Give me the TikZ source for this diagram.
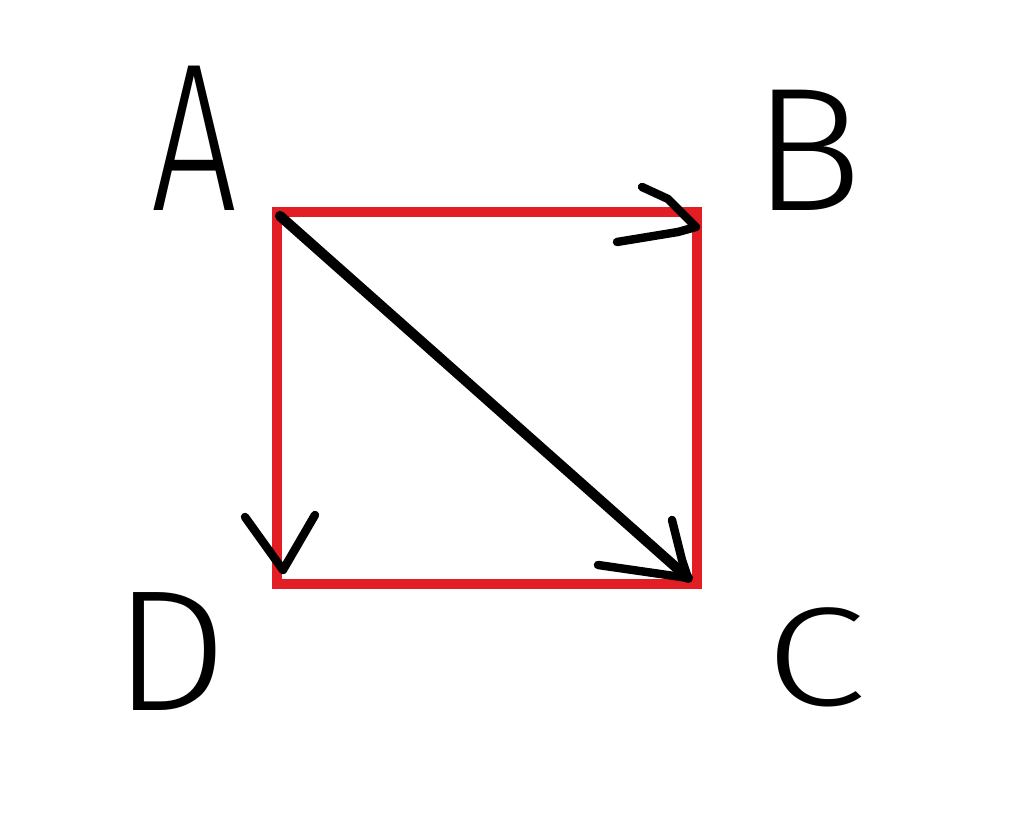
\documentclass[tikz,border=0pt]{standalone}
\usepackage{fontspec}
\newfontfamily\handfont{Fira Sans Light}
\begin{document}
\begin{tikzpicture}[x=1cm,y=1cm,
  redline/.style={draw={rgb,255:red,226;green,30;blue,36}, line width=2.7pt, line join=miter},
  pen/.style={draw=black, line width=2.4pt, line cap=round, line join=round},
  thickpen/.style={pen, line width=2.9pt},
  letter/.style={inner sep=0pt, text=black}]
\useasboundingbox (0,0) rectangle (10.24,8.35);
% corners
\coordinate (TL) at (2.77,6.23);
\coordinate (TR) at (6.97,6.23);
\coordinate (BR) at (6.97,2.51);
\coordinate (BL) at (2.77,2.51);
% square
\draw[redline] (TL) -- (TR) -- (BR) -- (BL) -- cycle;
% diagonal arrow A -> C
\coordinate (dstart) at (2.80,6.19);
\coordinate (ctip) at (6.88,2.57);
\draw[thickpen] (dstart) -- (ctip);
\coordinate (cup) at (6.72,3.15);
\coordinate (clow) at (5.98,2.70);
\draw[pen] (cup) -- (6.82,2.75) -- (ctip) -- (clow);
% arrowhead at B
\coordinate (btip) at (6.96,6.08);
\coordinate (bup) at (6.42,6.48);
\coordinate (blow) at (6.17,5.93);
\draw[pen] (bup) -- (6.68,6.36) -- (btip) -- (6.78,6.03) -- (blow);
% arrowhead at D
\coordinate (dtip) at (2.83,2.65);
\coordinate (dl) at (2.45,3.18);
\coordinate (dr) at (3.15,3.20);
\draw[pen] (dl) -- (dtip) -- (dr);
% labels
\node[letter] (A) at (1.94,6.97) {\fontsize{60}{60}\handfont\scalebox{0.72}[1]{A}};
\node[letter] (B) at (8.08,6.85) {\fontsize{50}{50}\handfont\scalebox{1.05}[1]{B}};
\node[letter] (C) at (8.16,1.78) {\fontsize{40}{40}\handfont\scalebox{1.3}[1]{C}};
\node[letter] (D) at (1.71,1.83) {\fontsize{49}{49}\handfont\scalebox{1.05}[1]{D}};
\end{tikzpicture}
\end{document}
